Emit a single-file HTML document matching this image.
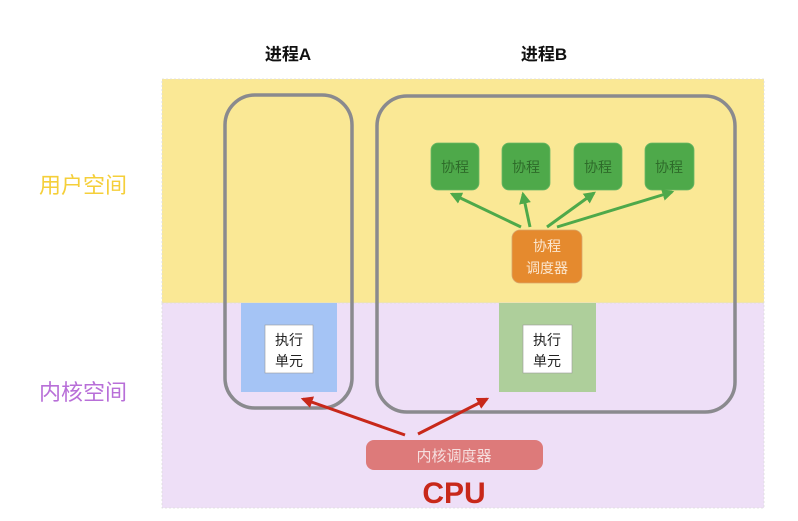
<!DOCTYPE html>
<html><head><meta charset="utf-8"><style>
html,body{margin:0;padding:0;background:#fff;width:798px;height:521px;overflow:hidden}
svg{display:block}
text{font-family:"Liberation Sans","Noto Sans CJK SC",sans-serif}
</style></head><body>
<svg width="798" height="521" viewBox="0 0 798 521" xmlns="http://www.w3.org/2000/svg">
<defs>
<marker id="ga" viewBox="0 0 10 10" refX="8" refY="5" markerWidth="4" markerHeight="4" orient="auto"><path d="M0,0L10,5L0,10z" fill="#4ea94a"/></marker>
<marker id="ra" viewBox="0 0 10 10" refX="8" refY="5" markerWidth="4" markerHeight="4" orient="auto"><path d="M0,0L10,5L0,10z" fill="#c8281a"/></marker>
</defs>
<rect x="162" y="79" width="602" height="224" fill="#fae895" stroke="#ddd" stroke-dasharray="2,2" stroke-width="0.8"/>
<rect x="162" y="303" width="602" height="205" fill="#eedff7" stroke="#ddd" stroke-dasharray="2,2" stroke-width="0.8"/>
<text x="288" y="60" font-size="17" font-weight="bold" text-anchor="middle" fill="#111">进程A</text>
<text x="544" y="60" font-size="17" font-weight="bold" text-anchor="middle" fill="#111">进程B</text>
<text x="83" y="193" font-size="22" text-anchor="middle" fill="#f5cf3a">用户空间</text>
<text x="83" y="400" font-size="22" text-anchor="middle" fill="#b86fd8">内核空间</text>
<rect x="241" y="303" width="96" height="89" fill="#a5c4f5"/>
<rect x="265" y="325" width="48" height="48" fill="#fff" stroke="#999" stroke-width="0.6"/>
<text x="289" y="345" font-size="14" text-anchor="middle" fill="#222">执行</text>
<text x="289" y="366" font-size="14" text-anchor="middle" fill="#222">单元</text>
<rect x="499" y="303" width="97" height="89" fill="#aecf9b"/>
<rect x="523" y="325" width="49" height="48" fill="#fff" stroke="#999" stroke-width="0.6"/>
<text x="547" y="345" font-size="14" text-anchor="middle" fill="#222">执行</text>
<text x="547" y="366" font-size="14" text-anchor="middle" fill="#222">单元</text>
<rect x="225" y="95" width="127" height="313" rx="30" fill="none" stroke="#8a8a8e" stroke-width="3.5"/>
<rect x="377" y="96" width="358" height="316" rx="30" fill="none" stroke="#8a8a8e" stroke-width="3.5"/>
<g fill="#4ea94a" stroke="#6bb866" stroke-width="0.8">
<rect x="431" y="143" width="48" height="47" rx="7"/>
<rect x="502" y="143" width="48" height="47" rx="7"/>
<rect x="574" y="143" width="48" height="47" rx="7"/>
<rect x="645" y="143" width="49" height="47" rx="7"/>
</g>
<g font-size="14" text-anchor="middle" fill="#2e6b2a">
<text x="455" y="172">协程</text><text x="526" y="172">协程</text><text x="598" y="172">协程</text><text x="669" y="172">协程</text>
</g>
<g stroke="#4ea94a" stroke-width="3" fill="none" marker-end="url(#ga)">
<line x1="521" y1="227" x2="452" y2="194"/>
<line x1="530" y1="227" x2="523" y2="194"/>
<line x1="547" y1="227" x2="594" y2="193"/>
<line x1="557" y1="227" x2="672" y2="192"/>
</g>
<rect x="512" y="230" width="70" height="53" rx="8" fill="#e58a2e" stroke="#d9a56a" stroke-width="0.8"/>
<text x="547" y="251" font-size="14" text-anchor="middle" fill="#fbe7d0">协程</text>
<text x="547" y="273" font-size="14" text-anchor="middle" fill="#fbe7d0">调度器</text>
<g stroke="#c8281a" stroke-width="3" fill="none" marker-end="url(#ra)">
<line x1="405" y1="435" x2="303" y2="399" transform="translate(0,0)"/>
<line x1="418" y1="434" x2="487" y2="399"/>
</g>
<rect x="366" y="440" width="177" height="30" rx="8" fill="#dd7a7a"/>
<text x="454" y="461" font-size="15" text-anchor="middle" fill="#f6dede">内核调度器</text>
<text x="454" y="503" font-size="30" font-weight="bold" text-anchor="middle" fill="#c8281a">CPU</text>
</svg>
</body></html>
